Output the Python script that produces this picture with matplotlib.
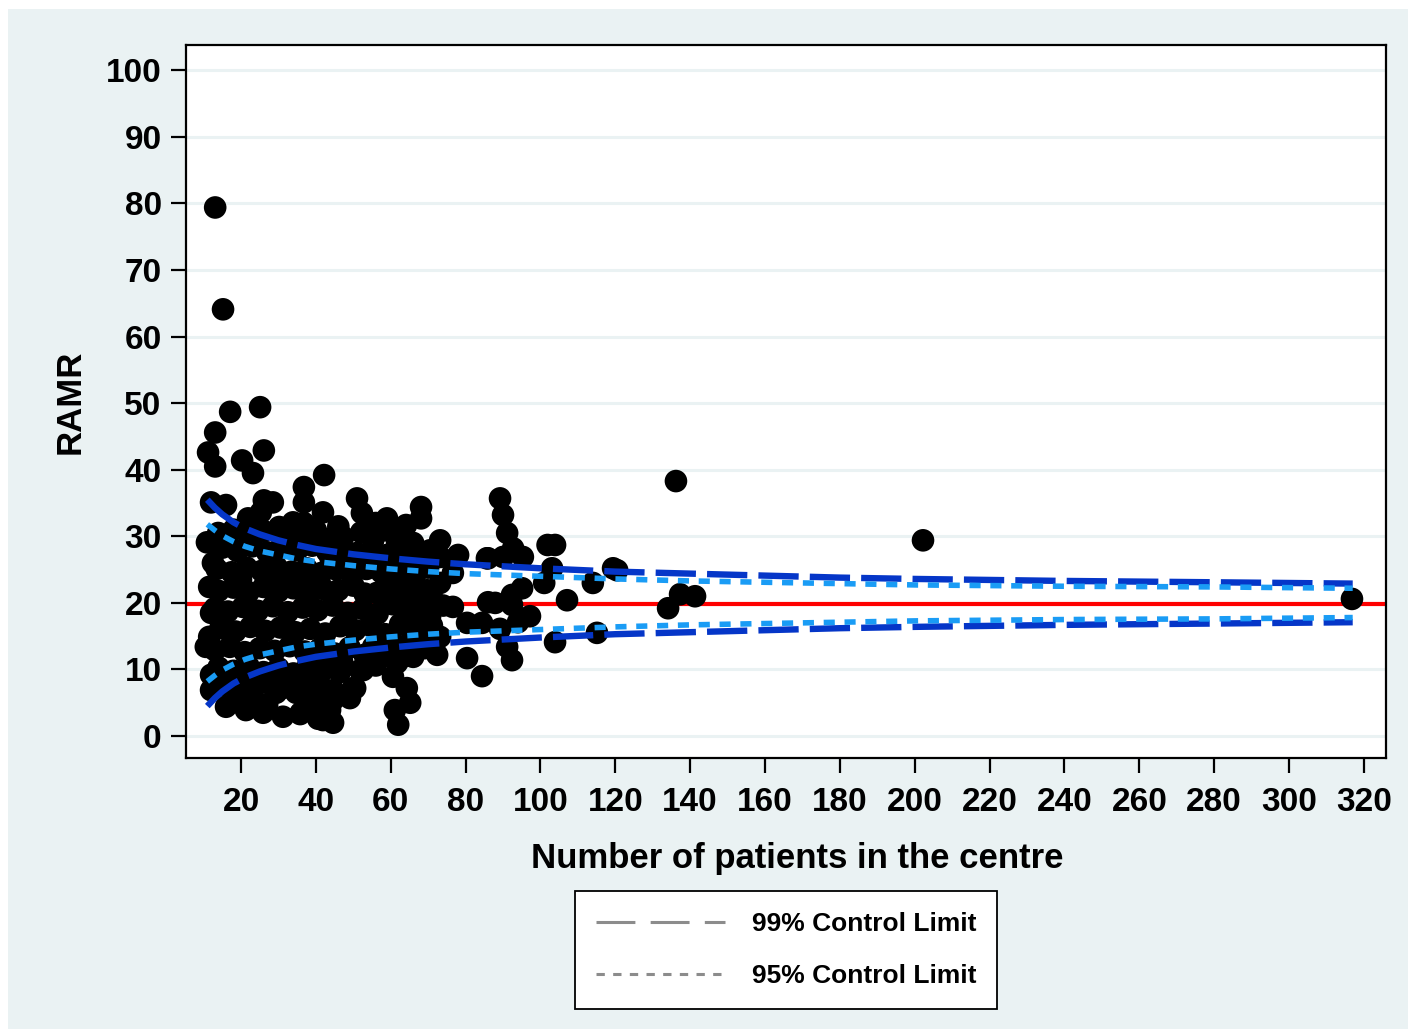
import matplotlib
matplotlib.use("Agg")
import matplotlib.pyplot as plt
from matplotlib.lines import Line2D
from matplotlib.patches import Rectangle

plt.rcParams["font.family"] = ["Liberation Sans", "DejaVu Sans"]
plt.rcParams["font.weight"] = "bold"
plt.rcParams["lines.scale_dashes"] = False

# centres: (number of patients, RAMR)
centres = [
    (13.1, 79.4), (15.2, 64.1), (17.1, 48.7), (25.1, 49.4), (13.1, 45.6), (11.2, 42.6),
    (26.1, 42.9), (13.1, 40.5), (20.3, 41.4), (23.2, 39.5), (42.2, 39.2), (36.8, 37.4),
    (136.2, 38.3), (202.2, 29.4), (316.8, 20.6),
    (12, 35.1), (16, 34.7), (26.1, 35.4), (28.5, 35.1), (36.8, 35.1), (41.9, 33.6),
    (21.9, 32.7), (25.3, 33.6), (30.2, 31.4), (33.9, 32.1), (36.8, 32), (36, 29.7),
    (44, 29.7), (10.9, 29.1), (13.9, 30.5),
    (51, 35.7), (52.3, 33.5), (59, 32.7), (68.1, 34.4), (68.1, 32.7), (64.1, 31.7),
    (52.1, 30.6), (58.5, 30.9), (73.2, 29.4), (78, 27.2), (85.7, 26.7), (66, 29),
    (70.5, 27.9), (61.7, 29), (55.3, 29.4), (47.3, 29.9), (73.2, 26.9), (73.2, 23),
    (76.6, 24.5), (56.3, 21.5), (61.7, 23), (65.2, 20.9), (69.7, 21.9), (76.6, 19.4),
    (70.5, 17.9), (80.4, 17), (84.4, 17), (86, 20.1), (73.2, 14.9), (72.4, 12.2),
    (80.4, 11.7), (84.4, 9), (61.7, 11), (66, 11.9), (60.6, 8.9), (64.3, 7.2),
    (65.2, 5), (61.1, 3.9), (62, 1.7), (52.6, 9.9), (49.9, 7.2), (49.1, 5.7),
    (44.6, 6.9), (44.6, 2), (43.8, 3.9), (59, 12.9), (63.3, 11.9), (55.3, 13.4),
    (68.6, 15.9),
    (89.2, 35.7), (90, 33.2), (91.1, 30.5), (92.7, 28.2), (86, 26.7), (90, 26.9),
    (95.3, 26.9), (101.9, 28.7), (103.9, 28.7), (103.1, 25.2), (101, 23), (114, 23),
    (119.4, 25.2), (120.5, 24.9), (95.1, 22.2), (92.4, 21.2), (87.9, 20), (92.4, 19.7),
    (107.1, 20.4), (97.2, 18), (94, 17.1), (89.2, 16.1), (91.1, 13.4), (92.4, 11.4),
    (103.9, 14.1), (115.1, 15.5),
    (134.1, 19.2), (137.3, 21.3), (141.3, 21.0),
    (12.5, 26), (11.5, 22.4), (12, 18.5), (11.5, 14.9), (10.6, 13.4), (12, 9.2),
    (12, 6.9), (16, 4.4), (21.3, 3.9), (25.9, 3.5), (31.2, 2.9), (36, 3.5),
    (41.9, 2.4), (29.4, 6.5), (34.7, 6.5), (40.8, 8), (44.6, 5.4), (39.2, 10.4),
    (18.7, 6.9), (23.2, 5.9), (41.1, 4.2), (40.6, 2.6), (35.8, 3.3), (50.5, 7.2),
    (51.8, 9.9), (46.4, 9.6), (42.4, 6.9),
    (15, 28.3), (19, 27.8), (23, 28.5), (27, 27.6), (31, 28.2), (35, 27.9), (39, 28.6),
    (43, 27.7), (47, 28.1), (51, 27.5), (55, 26.8), (59, 27.2), (63, 26.4), (67, 26.0),
    (13.5, 25.1), (17.5, 24.6), (21.5, 25.3), (25.5, 24.8), (29.5, 25.4), (33.5, 24.7),
    (37.5, 25.2), (41.5, 24.5), (45.5, 25.0), (49.5, 24.3), (53.5, 25.1), (57.5, 24.6),
    (62, 25.5), (66.5, 24.2), (70, 25.3),
    (14, 21.8), (18, 22.3), (22, 21.6), (26, 22.4), (30, 21.7), (34, 22.2), (38, 21.5),
    (42, 22.1), (46, 21.9), (50, 22.6), (53, 21.4), (58, 22.0), (63, 22.5), (67, 21.3),
    (71, 20.8),
    (13, 19.2), (16.5, 18.7), (20.5, 19.4), (24.5, 18.8), (28.5, 19.5), (32.5, 18.6),
    (36.5, 19.3), (40.5, 18.9), (44.5, 19.6), (48.5, 18.5), (52.5, 19.1), (56.5, 18.4),
    (60.5, 19.8), (64.5, 18.2), (68.5, 19.3), (74, 19.6),
    (14.5, 16.2), (18.5, 15.7), (22.5, 16.4), (26.5, 15.8), (30.5, 16.3), (34.5, 15.6),
    (38.5, 16.1), (42.5, 15.4), (46.5, 16.5), (50.5, 15.9), (54.5, 16.6), (58.5, 15.3),
    (62.5, 16.8), (66.5, 16.2), (71, 16.6),
    (13, 12.9), (17, 13.4), (21, 12.6), (25, 13.2), (29, 12.8), (33, 13.5), (37, 12.7),
    (41, 13.1), (45, 12.4), (49, 13.3), (53, 12.2), (57, 11.8), (60, 14.5), (65, 14.0),
    (69, 13.2),
    (14, 10.3), (18, 9.8), (22, 10.5), (26, 9.6), (30, 10.2), (34, 9.4), (38, 10.8),
    (42, 9.9), (47, 11.2), (56, 10.6),
    (15, 7.6), (19, 8.2), (23, 7.4), (27, 8.0), (31, 7.2), (36, 7.9), (38, 5.5),
    (27, 4.8), (20, 5.2),
    (18, 31), (22, 30.2), (26, 30.8), (31, 29.6), (40, 30.9), (46, 31.5), (49, 27.0),
    (56, 32.0), (62, 30.0), (44, 26.5), (38, 23.5), (30, 23.5), (20, 23.5),
]
patients = [c[0] for c in centres]
ramr = [c[1] for c in centres]

overall_ramr = 19.9

# control limits
limit_n = [11, 13, 15, 18, 21, 25, 30, 35, 40, 50, 60, 70, 80, 100, 120, 140, 160, 180,
           200, 240, 280, 317]
upper99 = [35.5, 34.3, 33.3, 32.1, 31.2, 30.3, 29.4, 28.7, 28.1, 27.3, 26.7, 26.2, 25.8,
           25.2, 24.7, 24.4, 24.1, 23.8, 23.6, 23.3, 23.1, 22.9]
lower99 = [4.5, 5.7, 6.7, 7.9, 8.8, 9.7, 10.6, 11.3, 11.9, 12.7, 13.3, 13.8, 14.2, 14.8,
           15.3, 15.6, 15.9, 16.2, 16.4, 16.7, 16.9, 17.1]
upper95 = [31.8, 30.9, 30.1, 29.2, 28.5, 27.8, 27.2, 26.6, 26.2, 25.6, 25.1, 24.7, 24.4,
           24.0, 23.6, 23.3, 23.1, 22.9, 22.7, 22.5, 22.4, 22.2]
lower95 = [8.2, 9.1, 9.9, 10.8, 11.5, 12.2, 12.8, 13.4, 13.8, 14.4, 14.9, 15.3, 15.6,
           16.0, 16.4, 16.7, 16.9, 17.1, 17.3, 17.5, 17.6, 17.8]

bg = "#eaf2f3"
fig = plt.figure(figsize=(14.1, 10.33), dpi=100)
fig.patch.set_facecolor("white")
fig.patches.append(Rectangle((8 / 1410, 4 / 1033), 1400 / 1410, 1020 / 1033,
                             transform=fig.transFigure, facecolor=bg, edgecolor="none",
                             zorder=-10))
ax = fig.add_axes([0.1319, 0.2662, 0.8511, 0.6902])
ax.set_facecolor("white")

ax.axhline(overall_ramr, color="#ff0000", lw=3, zorder=2)
ax.scatter(patients, ramr, s=265, color="black", edgecolors="none", zorder=3)

ax.plot(limit_n, upper99, color="#0536c8", lw=4.6, dashes=(29, 8), zorder=4)
ax.plot(limit_n, lower99, color="#0536c8", lw=4.6, dashes=(29, 8), zorder=4)
ax.plot(limit_n, upper95, color="#1a9cf5", lw=4.0, dashes=(8, 7), zorder=5)
ax.plot(limit_n, lower95, color="#1a9cf5", lw=4.0, dashes=(8, 7), zorder=5)

ax.set_xlim(5.3, 325.9)
ax.set_ylim(-3.3, 103.8)
ax.set_xticks(range(20, 321, 20))
ax.set_yticks(range(0, 101, 10))
ax.grid(axis="y", color=bg, lw=2.2, zorder=0)
ax.set_axisbelow(True)
for sp in ax.spines.values():
    sp.set_linewidth(1.6)
ax.tick_params(axis="both", direction="out", length=11, width=1.6, labelsize=24)
ax.tick_params(axis="y", pad=6.5)
ax.tick_params(axis="x", pad=10)
for lab in ax.get_xticklabels() + ax.get_yticklabels():
    lab.set_fontweight("bold")

ax.set_xlabel("Number of patients in the centre", fontsize=25, fontweight="bold", labelpad=15)
ax.xaxis.set_label_coords(0.509, -0.118)
ax.set_ylabel("RAMR", fontsize=25, fontweight="bold", labelpad=14)

handles = [
    Line2D([], [], color="#8c8c8c", lw=2.2, dashes=(28, 11)),
    Line2D([], [], color="#8c8c8c", lw=2.2, dashes=(6, 6)),
]
leg = fig.legend(handles, ["99% Control Limit", "95% Control Limit"],
                 loc="center", bbox_to_anchor=(786 / 1410, 1 - 950 / 1033),
                 fontsize=19, handlelength=4.9, handletextpad=1.0, labelspacing=1.05,
                 borderpad=0.8, fancybox=False, framealpha=1, edgecolor="black",
                 borderaxespad=0)
leg.get_frame().set_linewidth(1.3)
for t in leg.get_texts():
    t.set_fontweight("bold")

fig.savefig("out.png", dpi=100, facecolor=fig.get_facecolor())
